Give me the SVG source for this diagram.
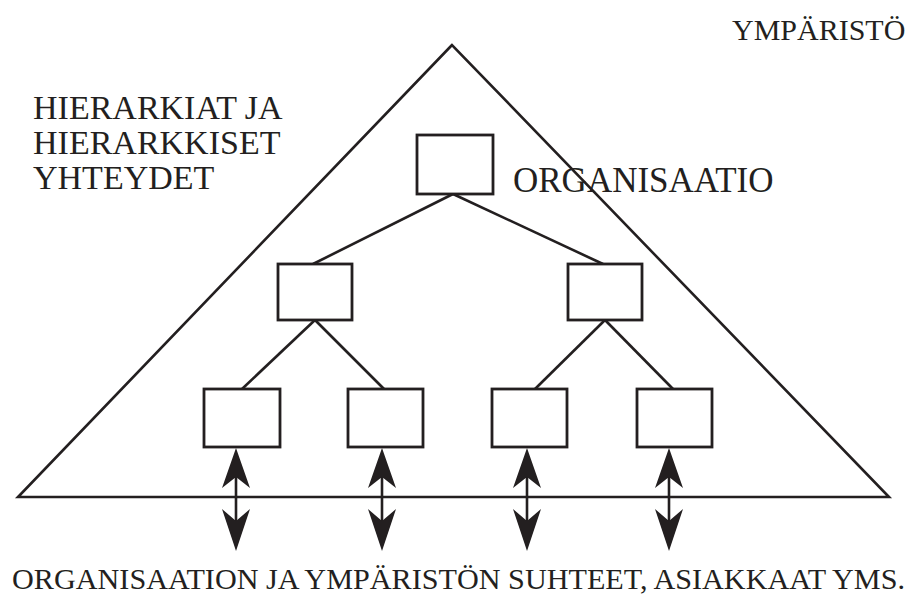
<svg xmlns="http://www.w3.org/2000/svg" width="912" height="596" viewBox="0 0 912 596">
<defs>
<style>
.ln{stroke:#231f20;stroke-width:2.6;fill:none}
.bx{stroke:#231f20;stroke-width:2.8;fill:#fff}
.t{fill:#231f20}
.ah{fill:#231f20}
</style>
<path id="up" class="ah" d="M0,0 L14,40 L0,29 L-14,40 Z"/>
<path id="dn" class="ah" d="M0,0 L14,-42 L0,-30 L-14,-42 Z"/>
</defs>
<g id="environment">
<polygon class="ln" points="452,45 18,497 889,497"/>
</g>
<g id="connectors">
<line class="ln" x1="453" y1="194" x2="313" y2="264"/>
<line class="ln" x1="453" y1="194" x2="603" y2="264"/>
<line class="ln" x1="315" y1="320" x2="242" y2="389"/>
<line class="ln" x1="315" y1="320" x2="384" y2="389"/>
<line class="ln" x1="605" y1="320" x2="535" y2="389"/>
<line class="ln" x1="605" y1="320" x2="673" y2="389"/>
<g id="arrow1"><line class="ln" stroke-width="3" x1="236" y1="470" x2="236" y2="530"/><use href="#up" x="236" y="448"/><use href="#dn" x="236" y="551"/></g>
<g id="arrow2"><line class="ln" stroke-width="3" x1="382" y1="470" x2="382" y2="530"/><use href="#up" x="382" y="448"/><use href="#dn" x="382" y="551"/></g>
<g id="arrow3"><line class="ln" stroke-width="3" x1="527" y1="470" x2="527" y2="530"/><use href="#up" x="527" y="448"/><use href="#dn" x="527" y="551"/></g>
<g id="arrow4"><line class="ln" stroke-width="3" x1="669" y1="470" x2="669" y2="530"/><use href="#up" x="669" y="448"/><use href="#dn" x="669" y="551"/></g>
</g>
<g id="top"><rect class="bx" x="417" y="135" width="76" height="59"/></g>
<g id="mid-left"><rect class="bx" x="278" y="264" width="74" height="56"/></g>
<g id="mid-right"><rect class="bx" x="568" y="264" width="74" height="56"/></g>
<g id="bot-1"><rect class="bx" x="204" y="389" width="76" height="58"/></g>
<g id="bot-2"><rect class="bx" x="348" y="389" width="75" height="58"/></g>
<g id="bot-3"><rect class="bx" x="492" y="389" width="75" height="58"/></g>
<g id="bot-4"><rect class="bx" x="637" y="389" width="75" height="58"/></g>
<g id="labels" font-family="'Liberation Serif', 'Times New Roman', 'DejaVu Serif', serif">
<text class="t" x="732" y="40" font-size="30">YMPÄRISTÖ</text>
<text class="t" x="33" y="119" font-size="34">HIERARKIAT JA</text>
<text class="t" x="33" y="154" font-size="34">HIERARKKISET</text>
<text class="t" x="33" y="189" font-size="34">YHTEYDET</text>
<text class="t" x="513" y="192" font-size="35">ORGANISAATIO</text>
<text class="t" x="12" y="589" font-size="29.7" textLength="893" lengthAdjust="spacingAndGlyphs">ORGANISAATION JA YMPÄRISTÖN SUHTEET, ASIAKKAAT YMS.</text>
</g>
</svg>
